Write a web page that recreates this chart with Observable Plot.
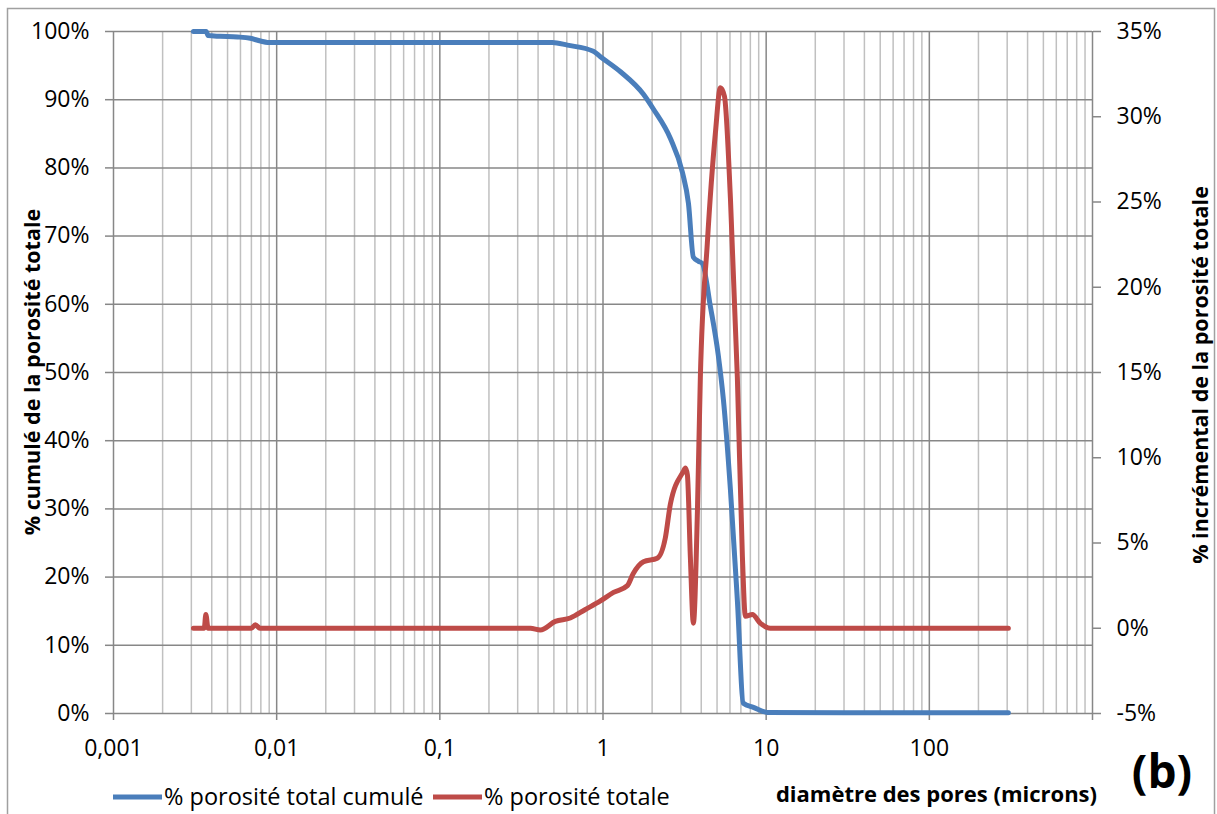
<!DOCTYPE html>
<html>
<head>
<meta charset="utf-8">
<script src="https://cdn.jsdelivr.net/npm/d3@7"></script>
<script src="https://cdn.jsdelivr.net/npm/@observablehq/plot@0.6"></script>
<style>
  html, body { margin: 0; padding: 0; background: white; }
</style>
</head>
<body>
<div id="chart"></div>
<script>
// ---- Data ----
// cumulative porosity (%), left axis
const cumDiam = [0.00309, 0.0037, 0.0038, 0.0045, 0.00575, 0.0069, 0.00796, 0.00879, 0.02, 0.1, 0.49, 0.605, 0.873, 0.964, 1.28, 1.77, 2.04, 2.59, 3.07, 3.34, 3.58, 3.85, 4.06, 4.55, 5.09, 5.47, 6.04, 6.66, 7.25, 8.35, 10.2, 30, 100, 305];
const cumPct  = [100, 100, 99.4, 99.3, 99.2, 99.0, 98.6, 98.4, 98.4, 98.4, 98.4, 98.0, 97.1, 96.3, 94.1, 90.8, 88.6, 84.3, 79.3, 74.8, 66.9, 66.3, 66.0, 59.7, 52.5, 46.0, 32.8, 16.6, 1.5, 0.9, 0.15, 0.1, 0.1, 0.1];

// incremental porosity (%), right axis
const incDiam = [0.00309, 0.0036, 0.00368, 0.0038, 0.0070, 0.0074, 0.0079, 0.1, 0.359, 0.413, 0.51, 0.63, 0.78, 0.964, 1.16, 1.41, 1.53, 1.77, 2.15, 2.41, 2.59, 3.11, 3.2, 3.29, 3.43, 3.58, 3.79, 3.95, 4.36, 4.89, 5.24, 5.55, 6.04, 6.66, 7.15, 7.46, 8.23, 9.2, 10.6, 30, 305];
const incPct  = [0, 0, 0.8, 0, 0, 0.2, 0, 0, 0, -0.1, 0.4, 0.6, 1.1, 1.6, 2.1, 2.5, 3.2, 3.9, 4.1, 5.3, 7.3, 9.2, 9.4, 9.0, 4.2, 0.3, 6.85, 14.7, 22.6, 29.1, 31.7, 31.2, 25.2, 14.7, 4.2, 0.7, 0.8, 0.3, 0, 0, 0];

// axes
const xTickValues = [0.001, 0.01, 0.1, 1, 10, 100, 1000];
const xTickLabels = ["0,001", "0,01", "0,1", "1", "10", "100", ""];
const leftTicks = [0, 10, 20, 30, 40, 50, 60, 70, 80, 90, 100];
const rightTicks = [-5, 0, 5, 10, 15, 20, 25, 30, 35];

const seriesNames = ["% porosité total cumulé", "% porosité totale"];
const seriesColors = ["#4a7ebb", "#be4b48"];
const yLeftTitle = "% cumulé de la porosité totale";
const yRightTitle = "% incrémental de la porosité totale";
const xTitle = "diamètre des pores (microns)";
const panelTag = "(b)";

// ---- Build ----
const rightMin = -5, rightMax = 35;
const toLeft = r => (r - rightMin) / (rightMax - rightMin) * 100;

const cumData = cumDiam.map((d, i) => ({d, v: cumPct[i]}));
const incData = incDiam.map((d, i) => ({d, v: toLeft(incPct[i])}));

const minorTicks = [];
const majorTicks = [];
for (let e = -3; e <= 3; e++) {
  majorTicks.push(Math.pow(10, e));
  if (e < 3) for (let k = 2; k <= 9; k++) minorTicks.push(k * Math.pow(10, e));
}

const xLabelOf = d => {
  const idx = xTickValues.findIndex(v => Math.abs(Math.log10(v) - Math.log10(d)) < 1e-6);
  return idx >= 0 ? xTickLabels[idx] : "";
};
const rightLabelOf = p => {
  const idx = rightTicks.findIndex(r => Math.abs(toLeft(r) - p) < 1e-6);
  return idx >= 0 ? rightTicks[idx] + "%" : "";
};

const FONT = "'Open Sans', Lato, sans-serif";
const W = 1217, H = 814;
const chart = Plot.plot({
  width: W,
  height: H,
  marginLeft: 113,
  marginRight: 125,
  marginTop: 31,
  marginBottom: 101,
  style: {fontFamily: FONT, fontSize: "23px", color: "black", background: "white"},
  x: {type: "log", domain: [0.001, 1000]},
  y: {domain: [0, 100]},
  marks: [
    Plot.ruleX(minorTicks, {stroke: "#c0c0c0", strokeWidth: 1.5}),
    Plot.ruleX(majorTicks, {stroke: "#878787", strokeWidth: 1.5}),
    Plot.ruleY(leftTicks, {stroke: "#878787", strokeWidth: 1.5}),
    Plot.axisY({ticks: leftTicks, tickFormat: d => d + "%", tickSize: 8, tickPadding: 16, stroke: "#878787", strokeWidth: 1.5, fill: "black", label: null, fontSize: 23}),
    Plot.axisY({anchor: "right", ticks: rightTicks.map(toLeft), tickFormat: rightLabelOf, tickSize: 8, tickPadding: 16, stroke: "#878787", strokeWidth: 1.5, fill: "black", label: null, fontSize: 23}),
    Plot.axisX({ticks: xTickValues, tickFormat: xLabelOf, tickSize: 7, tickPadding: 19, stroke: "#878787", strokeWidth: 1.5, fill: "black", label: null, fontSize: 23}),
    Plot.line(cumData, {x: "d", y: "v", stroke: seriesColors[0], strokeWidth: 5, curve: "monotone-x"}),
    Plot.line(incData, {x: "d", y: "v", stroke: seriesColors[1], strokeWidth: 5, curve: "monotone-x"})
  ]
});

document.getElementById("chart").appendChild(chart);

const svg = d3.select(chart);
// outer border
svg.append("rect").attr("x", 7.5).attr("y", 8.5).attr("width", 1207).attr("height", 830)
  .attr("fill", "none").attr("stroke", "#a0a0a0").attr("stroke-width", 1.5);

// y titles
svg.append("text").attr("transform", "translate(40,372) rotate(-90)")
  .attr("text-anchor", "middle").attr("font-weight", "bold").attr("font-size", 21.5)
  .attr("font-family", FONT).text(yLeftTitle);
svg.append("text").attr("transform", "translate(1208,375) rotate(-90)")
  .attr("text-anchor", "middle").attr("font-weight", "bold").attr("font-size", 21.5)
  .attr("font-family", FONT).text(yRightTitle);

// legend
const leg = svg.append("g");
[[113, 162, 164], [433, 482, 484]].forEach(([x1, x2, tx], i) => {
  leg.append("line").attr("x1", x1).attr("x2", x2).attr("y1", 797).attr("y2", 797)
    .attr("stroke", seriesColors[i]).attr("stroke-width", 5);
  leg.append("text").attr("x", tx).attr("y", 797).attr("dy", "0.35em")
    .attr("text-anchor", "start").attr("font-size", 23.5).attr("font-family", FONT)
    .text(seriesNames[i]);
});

// x title
svg.append("text").attr("x", 1097).attr("y", 794).attr("dy", "0.35em").attr("text-anchor", "end")
  .attr("font-weight", "bold").attr("font-size", 22).attr("font-family", FONT).text(xTitle);
// panel tag
svg.append("text").attr("x", 1162).attr("y", 772).attr("dy", "0.35em").attr("text-anchor", "middle")
  .attr("font-weight", "bold").attr("font-size", 46).attr("font-family", FONT).text(panelTag);
</script>
</body>
</html>
